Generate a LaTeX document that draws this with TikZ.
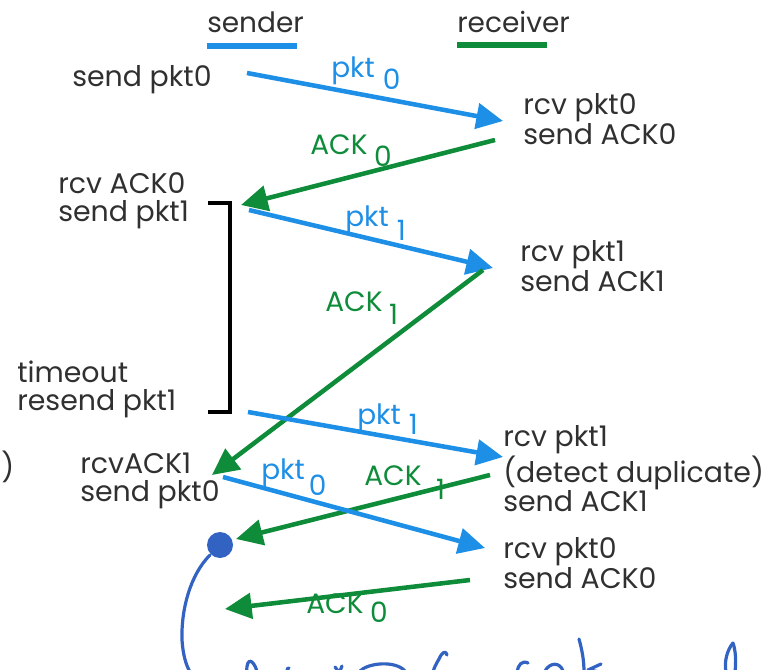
\documentclass[tikz,border=0pt]{standalone}
\usepackage{fontspec}
\setmainfont{Poppins}
\usetikzlibrary{arrows.meta}
\definecolor{pblue}{HTML}{1E8FE6}
\definecolor{agreen}{HTML}{0E8C3A}
\definecolor{ink}{HTML}{3363C2}
\definecolor{txt}{HTML}{303030}
\begin{document}
\begin{tikzpicture}[x=0.75pt,y=-0.75pt,
  lbl/.style={inner sep=0pt, text=txt, font=\fontsize{21.3}{21}\selectfont, align=left, anchor=west},
  head/.style={inner sep=0pt, text=txt, font=\fontsize{21}{21}\selectfont, anchor=base west},
  pk/.style={draw=pblue, line width=3.4pt, -{Triangle[length=20pt,width=19pt]}},
  ak/.style={draw=agreen, line width=3.4pt, -{Triangle[length=20pt,width=19pt]}},
  pkl/.style={inner sep=0pt, text=pblue, font=\fontsize{21}{21}\selectfont, anchor=base west},
  akl/.style={inner sep=0pt, text=agreen, font=\fontsize{21}{21}\selectfont, anchor=base west},
  uline/.style={line width=4pt},
  pen/.style={draw=ink, line width=2.4pt, line cap=round, line join=round}
]
\useasboundingbox (0,0) rectangle (770,670);

% headings
\node[head] (snd) at (207,33) {sender};
\node[head] (rcv) at (457,33) {receiver};
\coordinate (su1) at (207,46); \coordinate (su2) at (297,46);
\coordinate (ru1) at (457,45); \coordinate (ru2) at (547,45);
\draw[uline, pblue] (su1) -- (su2);
\draw[uline, agreen] (ru1) -- (ru2);

% event texts
\node[lbl] (t1) at (72,80) {send pkt0};
\node[lbl] (t2) at (523,119) {rcv pkt0\\send ACK0};
\node[lbl] (t3) at (58,201) {rcv ACK0\\send pkt1};
\node[lbl] (t4) at (520,266) {rcv pkt1\\send ACK1};
\node[lbl] (t5) at (17,389) {timeout\\resend pkt1};
\node[lbl] (t6) at (503,469) {rcv pkt1\\(detect duplicate)\\send ACK1};
\node[lbl] (t7) at (80,481) {rcvACK1\\send pkt0};
\node[lbl] (t8) at (503,563) {rcv pkt0\\send ACK0};
\node[lbl, anchor=west] (cut) at (1,467) {)};

% timeout bracket
\coordinate (b1) at (208,203); \coordinate (b2) at (230,203);
\coordinate (b3) at (230,412); \coordinate (b4) at (208,412);
\draw[line width=3pt, black] (b1) -- (b2) -- (b3) -- (b4);

% arrow endpoints
\coordinate (p0s) at (247,73);  \coordinate (p0e) at (503,121);
\coordinate (a0s) at (495,140); \coordinate (a0e) at (241,205);
\coordinate (p1s) at (249,210); \coordinate (p1e) at (493,268);
\coordinate (a1s) at (483,270); \coordinate (a1e) at (212,475);
\coordinate (q1s) at (248,412); \coordinate (q1e) at (503,457);
\coordinate (b1s) at (490,475); \coordinate (b1e) at (236,539);
\coordinate (q0s) at (223,477); \coordinate (q0e) at (485,548);
\coordinate (c0s) at (470,580); \coordinate (c0e) at (225,609);

\draw[pk] (p0s) -- (p0e);
\draw[ak] (a0s) -- (a0e);
\draw[pk] (p1s) -- (p1e);
\draw[ak] (a1s) -- (a1e);
\draw[pk] (q1s) -- (q1e);
\draw[ak] (b1s) -- (b1e);
\draw[pk] (q0s) -- (q0e);
\draw[ak] (c0s) -- (c0e);

% arrow labels
\node[pkl] (l1) at (331,78) {pkt\hspace{6pt}\raisebox{-9pt}{0}};
\node[akl] (l2) at (310,155) {ACK\hspace{5pt}\raisebox{-9pt}{0}};
\node[pkl] (l3) at (345,227) {pkt\hspace{6pt}\raisebox{-10pt}{1}};
\node[akl] (l4) at (325,311) {ACK\hspace{5pt}\raisebox{-10pt}{1}};
\node[pkl] (l5) at (357,424) {pkt\hspace{6pt}\raisebox{-8pt}{1}};
\node[akl] (l6) at (364,485) {ACK\hspace{11pt}\raisebox{-11pt}{1}};
\node[pkl] (l7) at (261,479) {pkt\hspace{3pt}\raisebox{-12pt}{0}};
\node[akl] (l8) at (306,613) {ACK\hspace{5pt}\raisebox{-7pt}{0}};

% handwritten annotation
\fill[ink] (220,545) circle (13);
\draw[pen] (210,555) .. controls (190,575) and (181,610) .. (182,640) .. controls (183,655) and (186,665) .. (190,672);
\draw[pen] (247,672) .. controls (246,664) and (249,659) .. (252,662) .. controls (255,665) and (256,668) .. (257,672);
\draw[pen] (287,669) -- (289,668);
\draw[pen] (335,667) -- (338,671); \draw[pen] (342,666) -- (340,671);
\draw[pen] (360,671) .. controls (368,663) and (395,660) .. (405,671);
\draw[pen] (447,655) .. controls (446,650) and (442,652) .. (439,659) .. controls (436,664) and (434,668) .. (433,672);
\draw[pen] (528,663) .. controls (522,660) and (518,665) .. (517,672);
\draw[pen] (545,671) .. controls (550,662) and (560,662) .. (563,671);
\draw[pen] (579,639) .. controls (582,650) and (584,660) .. (584,672);
\draw[pen] (601,664) -- (588,670) -- (600,672);
\draw[pen] (733,643) .. controls (727,650) and (724,662) .. (726,672);
\draw[pen] (733,643) .. controls (736,652) and (736,662) .. (735,672);
\end{tikzpicture}
\end{document}
